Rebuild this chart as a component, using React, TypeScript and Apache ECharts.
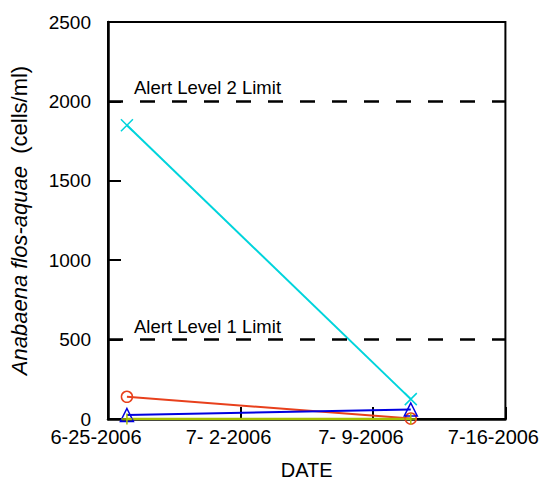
import React, { useEffect, useRef } from "react";
import * as echarts from "echarts";

const startDate = "2006-06-25";
const endDate = "2006-07-16";
const sampleDates = ["2006-06-26", "2006-07-11"];
const tickLabels = ["6-25-2006", "7- 2-2006", "7- 9-2006", "7-16-2006"];
const cyanValues = [1850, 125];
const redValues = [140, 3];
const blueValues = [25, 60];
const oliveValues = [0, 0];
const alertLevels = [500, 2000];
const alertNames = ["Alert Level 1 Limit", "Alert Level 2 Limit"];

const DAY = 86400000;
const dayOffset = (d: string) => (Date.parse(d) - Date.parse(startDate)) / DAY;

const FONT = "'Liberation Sans', Arial, sans-serif";

const crossPath = "path://M0,0L10,10M10,0L0,10";
const plusPath = "path://M5,0L5,10M0,5L10,5";

function pts(values: number[]) {
  return sampleDates.map((d, i) => [dayOffset(d), values[i]]);
}

export default function App() {
  const ref = useRef<HTMLDivElement>(null);
  useEffect(() => {
    document.body.style.margin = "0";
    const chart = echarts.init(ref.current!, undefined, { renderer: "svg" });
    const mkSeries = (name: string, values: number[], color: string, symbol: string, size: number, width = 2) => ({
      name,
      type: "line",
      data: pts(values),
      symbol,
      symbolSize: size,
      showSymbol: true,
      lineStyle: { color, width },
      itemStyle: { color: "rgba(255,255,255,0)", borderColor: color, borderWidth: 1.5 },
      emphasis: { disabled: true },
      z: 3,
    });
    chart.setOption({
      animation: false,
      textStyle: { fontFamily: FONT },
      grid: { left: 108, right: 34, top: 22, bottom: 61, show: true, borderColor: "#000", borderWidth: 2, backgroundColor: "transparent" },
      xAxis: {
        type: "value",
        min: 0,
        max: dayOffset(endDate),
        interval: 7,
        name: "DATE",
        nameLocation: "middle",
        nameGap: 41,
        nameTextStyle: { fontFamily: FONT, fontSize: 20, color: "#000" },
        axisLine: { show: true, lineStyle: { color: "#000", width: 2.5 } },
        axisTick: { show: true, inside: true, length: 12, lineStyle: { color: "#000", width: 2 } },
        splitLine: { show: false },
        axisLabel: {
          color: "#000",
          fontFamily: FONT,
          fontSize: 20,
          margin: 8,
          padding: [0, 24, 0, 0],
          formatter: (v: number) => tickLabels[Math.round(v / 7)] ?? "",
        },
      },
      yAxis: {
        type: "value",
        min: 0,
        max: 2500,
        interval: 500,
        name: "{i|Anabaena flos-aquae}  (cells/ml)",
        nameLocation: "middle",
        nameGap: 78,
        nameTextStyle: {
          fontFamily: FONT,
          fontSize: 22,
          color: "#000",
          rich: { i: { fontStyle: "italic", fontFamily: FONT, fontSize: 22, color: "#000" } },
        },
        axisLine: { show: true, lineStyle: { color: "#000", width: 2.5 } },
        axisTick: { show: true, inside: true, length: 13, lineStyle: { color: "#000", width: 2 } },
        splitLine: { show: false },
        axisLabel: { color: "#000", fontFamily: FONT, fontSize: 19, margin: 17, formatter: (v: number) => String(v) },
      },
      series: [
        {
          ...mkSeries("cyan", cyanValues, "#00d4dc", crossPath, 12),
          markLine: {
            silent: true,
            symbol: ["none", "none"],
            animation: false,
            lineStyle: { color: "#000", width: 2.5, type: [15, 17] },
            label: {
              show: true,
              position: "insideStartTop",
              distance: 4,
              padding: [0, 0, 0, 22],
              color: "#000",
              fontFamily: FONT,
              fontSize: 18.5,
              formatter: (p: any) => alertNames[alertLevels.indexOf(p.value)] ?? "",
            },
            data: alertLevels.map((v) => ({ yAxis: v })),
          },
        },
        mkSeries("red", redValues, "#e8401c", "circle", 11),
        mkSeries("blue", blueValues, "#0000e0", "triangle", 13),
        mkSeries("olive", oliveValues, "#a8c000", plusPath, 11, 2.5),
      ],
    });
    return () => chart.dispose();
  }, []);
  return <div ref={ref} style={{ width: 542, height: 485 }} />;
}
